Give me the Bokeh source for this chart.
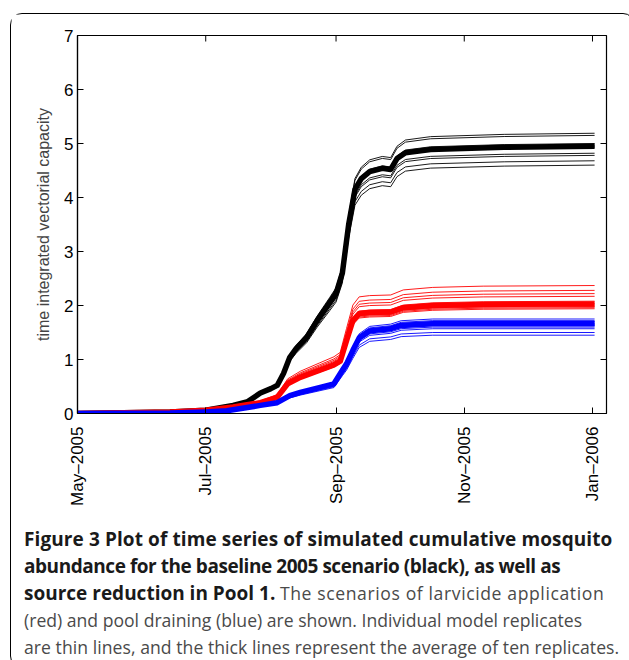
import math
import pandas as pd
from bokeh.plotting import figure
from bokeh.models import FixedTicker, Range1d, Div
from bokeh.layouts import column
from bokeh.embed import file_html
from bokeh.resources import INLINE

# ---------------- data ----------------
x_tick_dates = ["2005-05-01", "2005-07-01", "2005-09-01", "2005-11-01", "2006-01-01"]
x_tick_labels = ["May–2005", "Jul–2005", "Sep–2005", "Nov–2005", "Jan–2006"]
y_ticks = [0, 1, 2, 3, 4, 5, 6, 7]

baseline_dates = ["2005-05-01", "2005-06-14", "2005-07-01", "2005-07-14", "2005-07-21",
                  "2005-07-27", "2005-08-01", "2005-08-04", "2005-08-07", "2005-08-10",
                  "2005-08-13", "2005-08-18", "2005-08-23", "2005-08-29", "2005-09-01",
                  "2005-09-04", "2005-09-07", "2005-09-10", "2005-09-13", "2005-09-17",
                  "2005-09-23", "2005-09-27", "2005-09-30", "2005-10-04", "2005-10-16",
                  "2005-11-20", "2006-01-02"]
baseline_mean = [0, 0.03, 0.06, 0.15, 0.22, 0.38, 0.46, 0.52, 0.74, 1.04, 1.2, 1.41, 1.72,
                 2.05, 2.22, 2.6, 3.5, 4.15, 4.35, 4.48, 4.54, 4.52, 4.72, 4.83, 4.89, 4.93, 4.95]
baseline_replicate_finals = [5.19, 5.15, 5.0, 4.97, 4.95, 4.93, 4.82, 4.78, 4.68, 4.6]

larvicide_dates = ["2005-05-01", "2005-06-14", "2005-07-01", "2005-07-14", "2005-07-27",
                   "2005-08-04", "2005-08-09", "2005-08-15", "2005-08-24", "2005-08-31",
                   "2005-09-03", "2005-09-06", "2005-09-09", "2005-09-12", "2005-09-17",
                   "2005-09-27", "2005-10-03", "2005-10-17", "2005-11-10", "2006-01-02"]
larvicide_mean = [0, 0.03, 0.06, 0.12, 0.2, 0.3, 0.55, 0.67, 0.8, 0.9, 0.97, 1.35, 1.72,
                  1.85, 1.87, 1.88, 1.96, 2.0, 2.02, 2.03]
larvicide_replicate_finals = [2.37, 2.28, 2.22, 2.17, 2.08, 2.04, 2.01, 1.98, 1.96, 1.94]

draining_dates = ["2005-05-01", "2005-06-14", "2005-07-01", "2005-07-11", "2005-07-27",
                  "2005-08-04", "2005-08-10", "2005-08-15", "2005-08-24", "2005-08-31",
                  "2005-09-04", "2005-09-06", "2005-09-09", "2005-09-12", "2005-09-17",
                  "2005-09-27", "2005-10-02", "2005-10-17", "2006-01-02"]
draining_mean = [0, 0.01, 0.03, 0.05, 0.15, 0.2, 0.33, 0.39, 0.48, 0.55, 0.8, 0.92, 1.17,
                 1.4, 1.53, 1.57, 1.63, 1.66, 1.66]
draining_replicate_finals = [1.75, 1.72, 1.70, 1.67, 1.65, 1.63, 1.60, 1.57, 1.50, 1.45]

x_start = "2005-05-01"
x_end = "2006-01-07 16:00"
y_start, y_end = 0, 7

caption_bold = ["Figure 3 Plot of time series of simulated cumulative mosquito",
                "abundance for the baseline 2005 scenario (black), as well as",
                "source reduction in Pool 1."]
caption_normal = ["The scenarios of larvicide application",
                  "(red) and pool draining (blue) are shown. Individual model replicates",
                  "are thin lines, and the thick lines represent the average of ten replicates."]

# ---------------- figure ----------------
def ms(d):
    return pd.Timestamp(d).value / 1e6

W, H = 613, 507
FRAME_L, FRAME_T, FRAME_W, FRAME_H = 66, 21, 529, 378

p = figure(width=W, height=H, x_axis_type="datetime",
           output_backend="svg", toolbar_location=None,
           x_range=Range1d(ms(x_start), ms(x_end)), y_range=Range1d(y_start, y_end),
           min_border_left=FRAME_L, min_border_top=FRAME_T,
           min_border_right=W - FRAME_L - FRAME_W,
           min_border_bottom=H - FRAME_T - FRAME_H)
p.xgrid.visible = False
p.ygrid.visible = False
p.outline_line_color = "black"
p.outline_line_width = 1.2
p.background_fill_color = "white"
p.border_fill_color = "white"

scenarios = [
    (baseline_dates, baseline_mean, baseline_replicate_finals, "#000000"),
    (larvicide_dates, larvicide_mean, larvicide_replicate_finals, "#ff0000"),
    (draining_dates, draining_mean, draining_replicate_finals, "#0000ff"),
]
for dates, mean, finals, color in scenarios:
    xs = pd.to_datetime(dates)
    for f in finals:
        ys = [v * f / mean[-1] for v in mean]
        p.line(xs, ys, line_color=color, line_width=0.9)
    p.line(xs, mean, line_color=color, line_width=5.5, line_join="round")

tick_ms = [ms(d) for d in x_tick_dates]
TICK = 6  # px, drawn inside the box

def style_axis(ax):
    ax.axis_line_color = "black"
    ax.axis_line_width = 1.2
    ax.major_tick_line_color = "black"
    ax.major_tick_line_width = 1
    ax.major_tick_in = TICK
    ax.major_tick_out = 0
    ax.minor_tick_in = 0
    ax.minor_tick_out = 0
    ax.major_label_text_font = "Liberation Sans"
    ax.major_label_text_font_size = "17px"
    ax.major_label_text_color = "black"

xa = p.xaxis[0]
xa.ticker = FixedTicker(ticks=tick_ms)
xa.major_label_overrides = {t: lab for t, lab in zip(tick_ms, x_tick_labels)}
style_axis(xa)
xa.major_label_orientation = math.pi / 2
xa.major_label_standoff = 13

ya = p.yaxis[0]
ya.ticker = FixedTicker(ticks=y_ticks)
style_axis(ya)
ya.major_label_standoff = 4
ya.axis_label = "time integrated vectorial capacity"
ya.axis_label_text_font = "Liberation Sans"
ya.axis_label_text_font_size = "16px"
ya.axis_label_text_font_style = "normal"
ya.axis_label_standoff = 9

# inward ticks on the top and right sides of the box (MATLAB style)
x_span = ms(x_end) - ms(x_start)
y_span = y_end - y_start
p.segment(x0=tick_ms, x1=tick_ms, y0=[y_end] * len(tick_ms),
          y1=[y_end - TICK * y_span / FRAME_H] * len(tick_ms),
          line_color="black", line_width=1)
p.segment(x0=[ms(x_end)] * len(y_ticks), x1=[ms(x_end) - TICK * x_span / FRAME_W] * len(y_ticks),
          y0=y_ticks, y1=y_ticks, line_color="black", line_width=1)

# ---------------- caption ----------------
def bold(t, ls):
    return ("<span style='font-weight:bold; color:#1a1a1a; font-size:19px; "
            "letter-spacing:%spx;'>%s</span>" % (ls, t))

def normal(t, ls):
    return "<span style='letter-spacing:%spx;'>%s</span>" % (ls, t)

caption_html = (
    "<div style=\"font-family:'Open Sans'; font-size:17.6px; line-height:27px; "
    "white-space:nowrap; color:#4a4a4a; padding-left:8px; padding-top:0px;\">"
    + bold(caption_bold[0], 0.1) + "<br>"
    + bold(caption_bold[1], -0.45) + "<br>"
    + bold(caption_bold[2], 0) + " " + normal(caption_normal[0], 0.6) + "<br>"
    + normal(caption_normal[1], 0) + "<br>"
    + normal(caption_normal[2], 0.05)
    + "</div>"
)
cap = Div(text=caption_html, width=W, height=136, styles={"overflow": "hidden"})

layout = column(p, cap, styles={"margin": "13px 0 0 10px",
                                "border": "1.5px solid #000000",
                                "border-radius": "12px",
                                "background": "white"})

open("out.html", "w").write(file_html(layout, INLINE))
